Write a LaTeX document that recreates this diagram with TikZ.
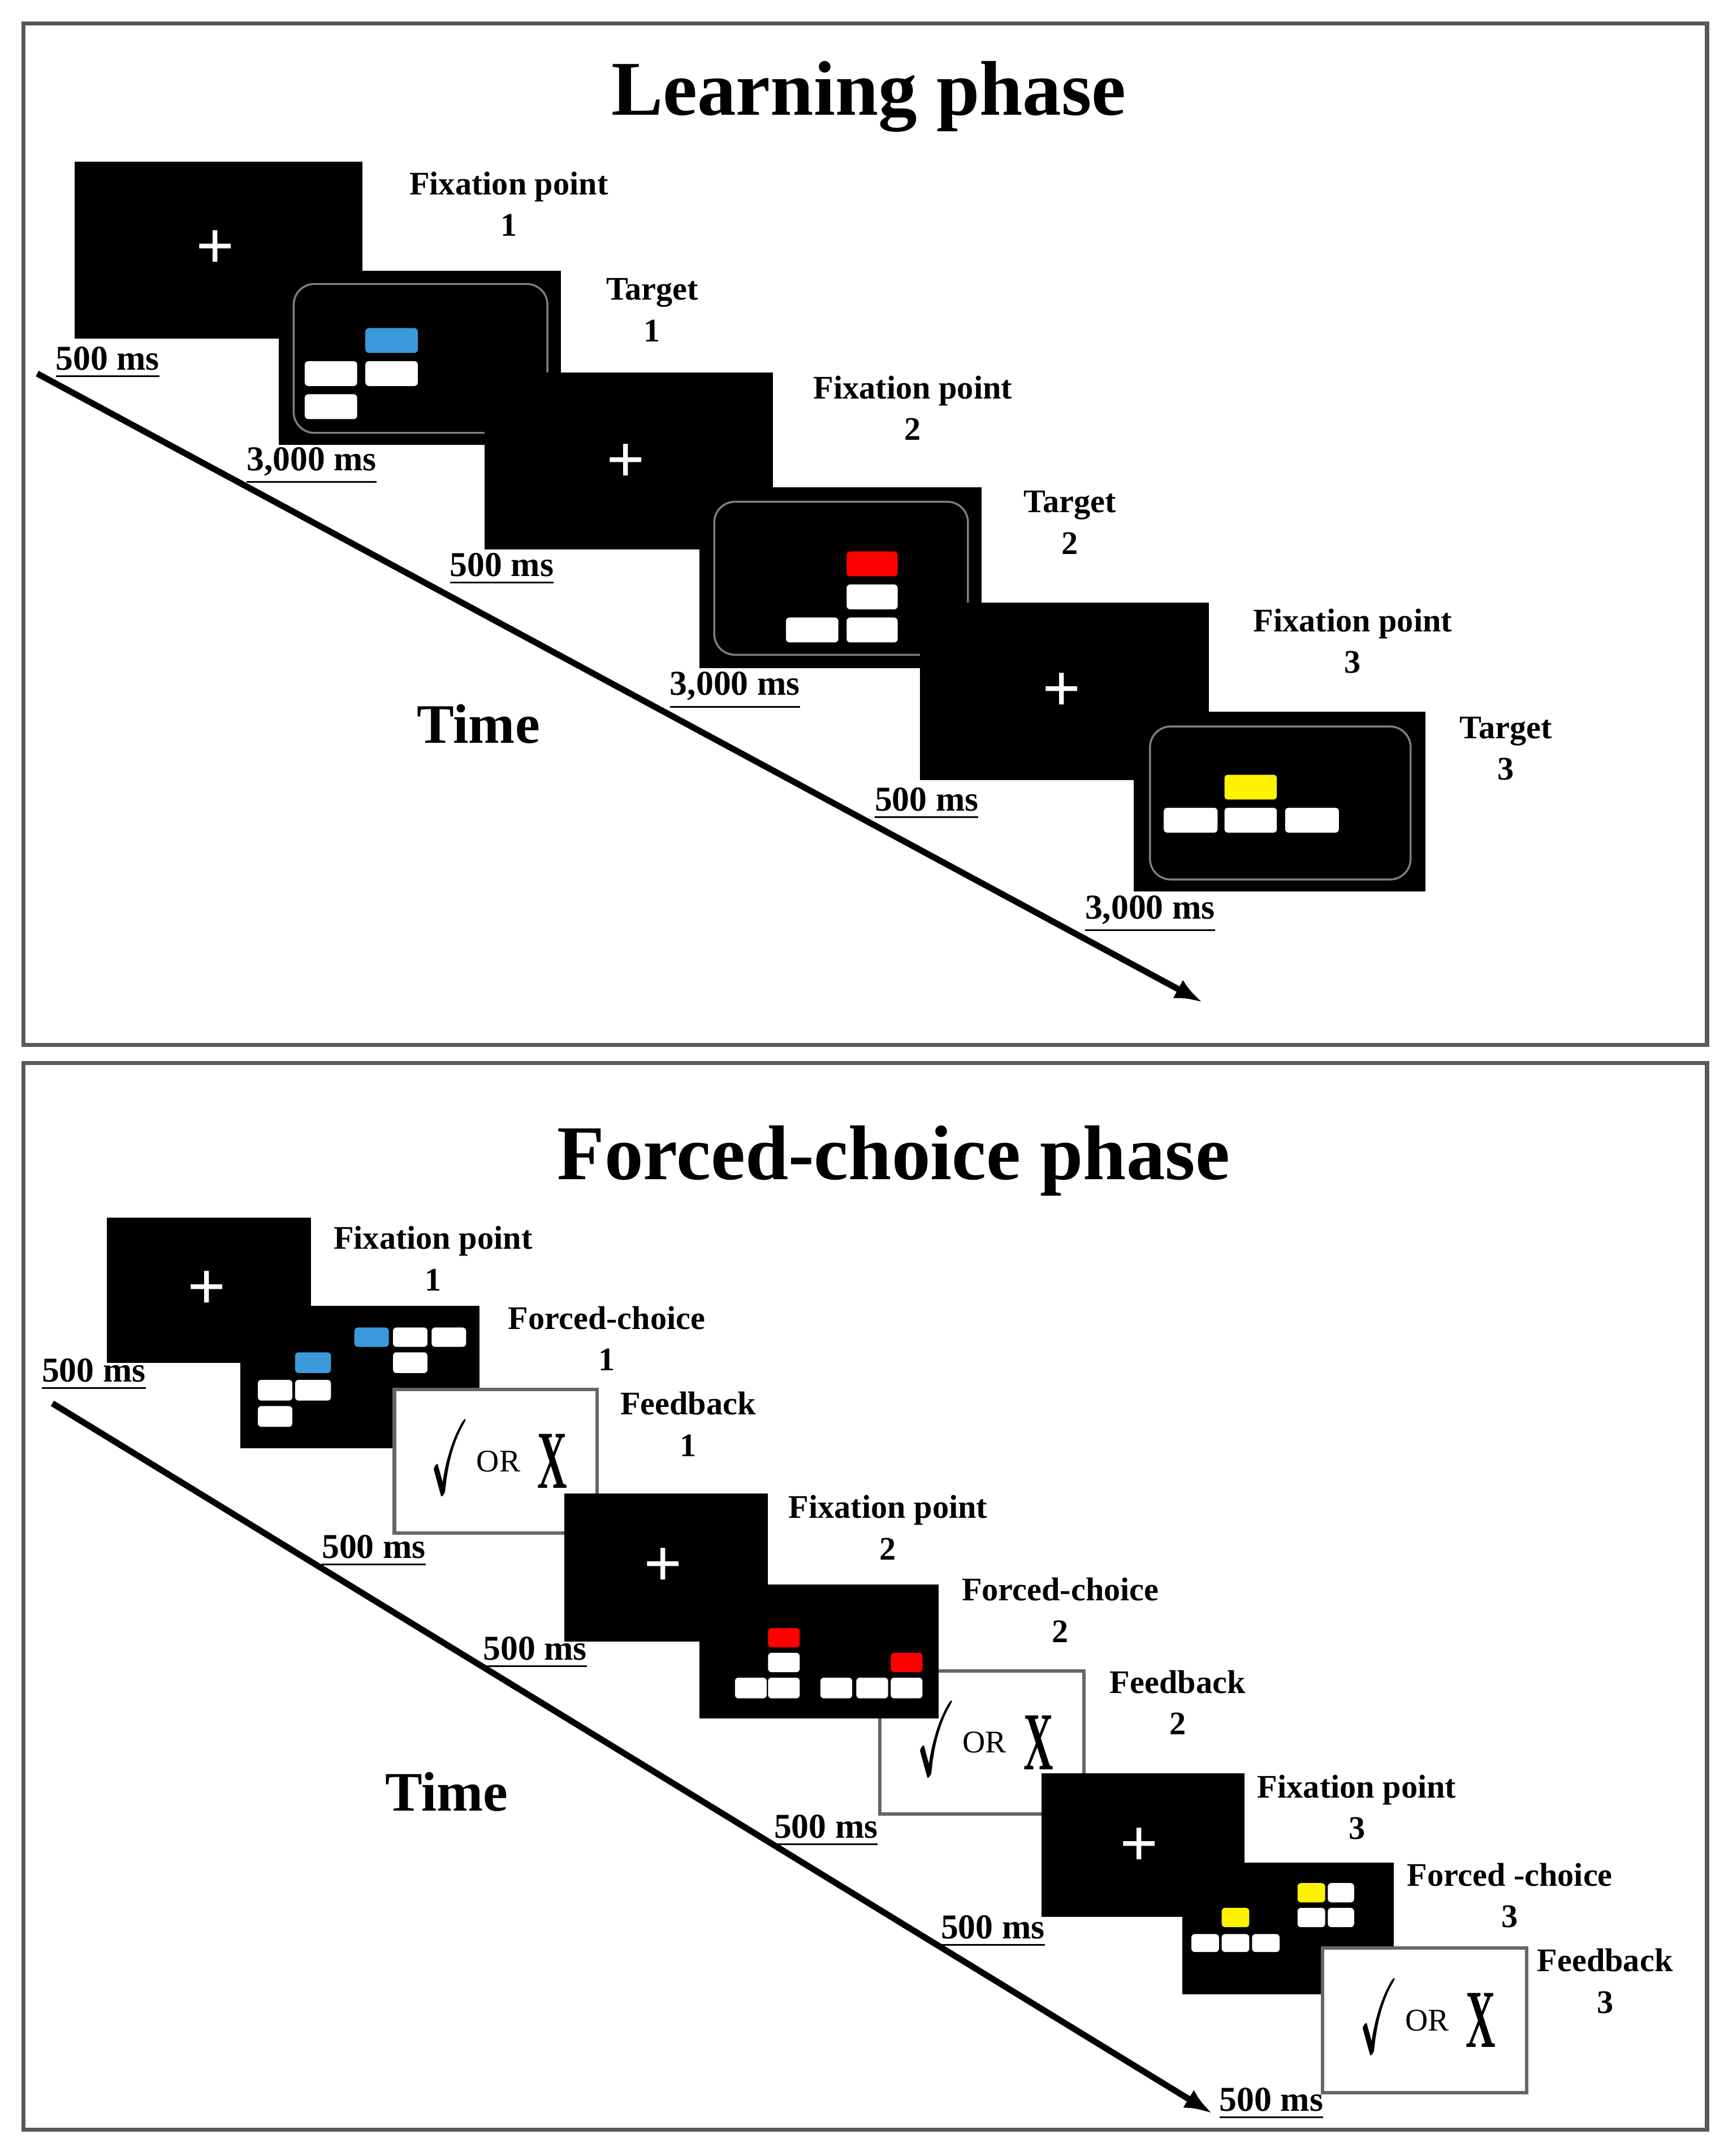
\documentclass[tikz,border=0pt]{standalone}
\usepackage{amssymb}
\usepackage{fontspec}
\setmainfont{Liberation Serif}
\usetikzlibrary{arrows.meta}
\newcommand{\blackScreen}[5]{% name, x1, y1, x2, y2
  \node[screen, minimum width={(#4-#2)*0.1mm}, minimum height={(#5-#3)*0.1mm}] (#1) at ({(#2+#4)/2},{(#3+#5)/2}) {};}
\newcommand{\plusSign}[1]{\node[plus] at (#1) {+};}
\newcommand{\cell}[5]{\fill[#1, rounded corners=0.25mm] (#2,#3) rectangle (#4,#5);}
\begin{document}
\begin{tikzpicture}[x=0.1mm, y=-0.1mm,
    screen/.style={draw=black, fill=black, inner sep=0pt, outer sep=0pt},
    feedback/.style={draw=gray!80!black, line width=0.25mm, fill=white, inner sep=0pt},
    plus/.style={text=white, font=\bfseries\fontsize{14}{14}\selectfont},
    lbl/.style={align=center, font=\bfseries\fontsize{6.8}{8.6}\selectfont},
    dur/.style={font=\bfseries\fontsize{7.2}{8}\selectfont},
    ttl/.style={font=\bfseries\fontsize{16}{18}\selectfont},
    timeax/.style={line width=0.45mm, -{Latex[length=2mm]}},
    frame/.style={draw=gray!70!black, line width=0.3mm}]
  \useasboundingbox (0,0) rectangle (1250,1564);
  \fill[white] (0,0) rectangle (1250,1564);

  % learning phase
  \draw[frame] (17,17) rectangle (1238,758);
  \node[ttl] (learnTitle) at (630,70) {Learning phase};
  \coordinate (learnStart) at (27,271);
  \coordinate (learnEnd) at (872,727);
  \draw[timeax] (learnStart) -- (learnEnd);
  \node[font=\bfseries\fontsize{11.5}{12}\selectfont] (learnTime) at (347,525) {Time};

  \blackScreen{fixA}{55}{118}{262}{245}
  \plusSign{156,181}
  \blackScreen{tgtA}{203}{197}{406}{322}
  \draw[gray, rounded corners=1.5mm] (213,206) rectangle (397,314);
  \cell{cyan!70!blue!80}{265}{238}{303}{256}
  \cell{white}{221}{262}{259}{280}
  \cell{white}{265}{262}{303}{280}
  \cell{white}{221}{286}{259}{304}
  \blackScreen{fixB}{352}{271}{560}{398}
  \plusSign{454,336}
  \blackScreen{tgtB}{508}{354}{711}{484}
  \draw[gray, rounded corners=1.5mm] (518,364) rectangle (702,475);
  \cell{red}{614}{400}{651}{418}
  \cell{white}{614}{424}{651}{442}
  \cell{white}{570}{448}{608}{466}
  \cell{white}{614}{448}{651}{466}
  \blackScreen{fixC}{668}{438}{876}{565}
  \plusSign{770,502}
  \blackScreen{tgtC}{823}{517}{1033}{646}
  \draw[gray, rounded corners=1.5mm] (834,527) rectangle (1023,638);
  \cell{yellow}{888}{562}{926}{580}
  \cell{white}{844}{586}{883}{604}
  \cell{white}{888}{586}{926}{604}
  \cell{white}{932}{586}{971}{604}

  \node[lbl] at (369,148) {Fixation point\\1};
  \node[lbl] at (473,225) {Target\\1};
  \node[lbl] at (662,296) {Fixation point\\2};
  \node[lbl] at (776,379) {Target\\2};
  \node[lbl] at (981,465) {Fixation point\\3};
  \node[lbl] at (1092,543) {Target\\3};
  \foreach \px/\py/\txt in {78/263/500 ms, 226/338/{3,000 ms}, 364/413/500 ms, 533/501/{3,000 ms}, 672/583/500 ms, 834/663/{3,000 ms}}
    \node[dur] at (\px,\py) {\underline{\txt}};

  % forced-choice phase
  \draw[frame] (17,771) rectangle (1238,1545);
  \node[ttl] (fcTitle) at (648,842) {Forced-choice phase};
  \coordinate (fcStart) at (38,1018);
  \coordinate (fcEnd) at (879,1533);
  \draw[timeax] (fcStart) -- (fcEnd);
  \node[font=\bfseries\fontsize{11.5}{12}\selectfont] (fcTime) at (324,1300) {Time};

  \blackScreen{fcFixA}{78}{884}{225}{988}
  \plusSign{150,936}
  \blackScreen{choiceA}{175}{948}{347}{1050}
  \cell{cyan!70!blue!80}{214}{981}{240}{996}
  \cell{white}{187}{1001}{212}{1016}
  \cell{white}{214}{1001}{240}{1016}
  \cell{white}{187}{1020}{212}{1035}
  \cell{cyan!70!blue!80}{257}{963}{282}{977}
  \cell{white}{285}{963}{310}{977}
  \cell{white}{313}{963}{338}{977}
  \cell{white}{285}{981}{310}{996}
  \node[feedback, minimum width=14.7mm, minimum height=10.4mm] (fbA) at (359.5,1060) {};
  \blackScreen{fcFixB}{410}{1084}{556}{1190}
  \plusSign{481,1137}
  \node[feedback, minimum width=14.8mm, minimum height=10.4mm] (fbB) at (712,1264) {};
  \blackScreen{choiceB}{508}{1150}{680}{1246}
  \cell{red}{557}{1181}{580}{1195}
  \cell{white}{557}{1199}{580}{1213}
  \cell{white}{533}{1217}{556}{1232}
  \cell{white}{557}{1217}{580}{1232}
  \cell{red}{646}{1199}{669}{1213}
  \cell{white}{595}{1217}{618}{1232}
  \cell{white}{621}{1217}{644}{1232}
  \cell{white}{646}{1217}{669}{1232}
  \blackScreen{fcFixC}{756}{1287}{902}{1390}
  \plusSign{826,1340}
  \blackScreen{choiceC}{858}{1352}{1010}{1446}
  \cell{yellow}{886}{1384}{906}{1398}
  \cell{white}{864}{1403}{884}{1416}
  \cell{white}{886}{1403}{906}{1416}
  \cell{white}{908}{1403}{928}{1416}
  \cell{yellow}{941}{1366}{961}{1380}
  \cell{white}{963}{1366}{982}{1380}
  \cell{white}{941}{1384}{961}{1398}
  \cell{white}{963}{1384}{982}{1398}
  \node[feedback, minimum width=14.8mm, minimum height=10.5mm] (fbC) at (1033,1465.5) {};
  \foreach \fb in {fbA, fbB, fbC} {
    \node[font=\fontsize{22}{22}\selectfont, xscale=0.45] at ([xshift=-3.3mm,yshift=0.3mm]\fb.center) {$\checkmark$};
    \node[font=\fontsize{6.5}{7}\selectfont] at ([xshift=0.2mm]\fb.center) {OR};
    \node[font=\bfseries\fontsize{17}{17}\selectfont, xscale=0.5] at ([xshift=4.1mm]\fb.center) {X};
  }

  \node[lbl] at (314,913) {Fixation point\\1};
  \node[lbl] at (440,971) {Forced-choice\\1};
  \node[lbl] at (499,1033) {Feedback\\1};
  \node[lbl] at (644,1108) {Fixation point\\2};
  \node[lbl] at (769,1168) {Forced-choice\\2};
  \node[lbl] at (854,1235) {Feedback\\2};
  \node[lbl] at (984,1311) {Fixation point\\3};
  \node[lbl] at (1095,1375) {Forced -choice\\3};
  \node[lbl] at (1164,1437) {Feedback\\3};
  \foreach \px/\py in {68/997, 271/1125, 388/1199, 599/1328, 720/1401, 922/1526}
    \node[dur] at (\px,\py) {\underline{500 ms}};
\end{tikzpicture}
\end{document}
